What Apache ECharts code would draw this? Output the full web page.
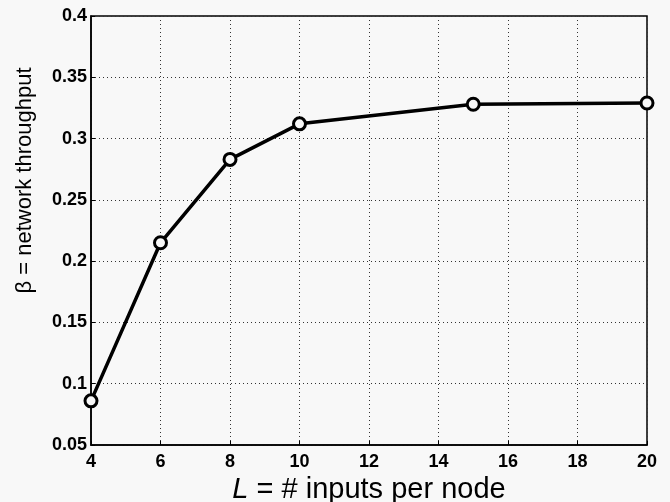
<!DOCTYPE html>
<html>
<head>
<meta charset="utf-8">
<script src="https://cdn.jsdelivr.net/npm/echarts@6/dist/echarts.min.js"></script>
<style>
html,body{margin:0;padding:0;background:#f8f8f8;}
#c{width:670px;height:502px;}
</style>
</head>
<body>
<div id="c"></div>
<script>
const xValues = [4, 6, 8, 10, 15, 20];
const throughput = [0.086, 0.215, 0.283, 0.312, 0.328, 0.329];
const xTitle = "L = # inputs per node";
const yTitle = "\u03B2 = network throughput";

const chart = echarts.init(document.getElementById('c'));
const fontFam = '"Liberation Sans", Arial, sans-serif';
chart.setOption({
  backgroundColor: '#f8f8f8',
  animation: false,
  grid: { left: 91, right: 23, top: 16, bottom: 57, outerBoundsMode: 'none', containLabel: false, show: true, borderColor: '#000', borderWidth: 1.5, backgroundColor: 'transparent' },
  xAxis: {
    type: 'value', min: 4, max: 20, interval: 2,
    name: '{i|L} = # inputs per node',
    nameLocation: 'middle', nameGap: 27,
    nameTextStyle: {
      fontFamily: fontFam, fontSize: 29, color: '#000',
      rich: { i: { fontFamily: fontFam, fontSize: 29, fontStyle: 'italic', color: '#000' } }
    },
    axisLine: { show: true, lineStyle: { color: '#000', width: 1.5 } },
    axisTick: { show: true, inside: true, length: 4, lineStyle: { color: '#000' } },
    axisLabel: { color: '#000', fontFamily: fontFam, fontWeight: 'bold', fontSize: 18, margin: 8 },
    splitLine: { show: true, lineStyle: { color: '#333', type: [1, 3], width: 1 } }
  },
  yAxis: {
    type: 'value', min: 0.05, max: 0.4, interval: 0.05,
    name: yTitle,
    nameLocation: 'middle', nameGap: 55,
    nameTextStyle: { fontFamily: fontFam, fontSize: 22, color: '#000', padding: [0, 0, 0, 100] },
    axisLine: { show: true, lineStyle: { color: '#000', width: 1.5 } },
    axisTick: { show: true, inside: true, length: 4, lineStyle: { color: '#000' } },
    axisLabel: {
      color: '#000', fontFamily: fontFam, fontWeight: 'bold', fontSize: 18, margin: 4,
      formatter: v => String(+v.toFixed(2))
    },
    splitLine: { show: true, lineStyle: { color: '#333', type: [1, 3], width: 1 } }
  },
  series: [{
    type: 'line',
    data: xValues.map((x, i) => [x, throughput[i]]),
    symbol: 'circle', symbolSize: 12,
    itemStyle: { color: '#f8f8f8', borderColor: '#000', borderWidth: 3 },
    lineStyle: { color: '#000', width: 3.5 },
    z: 3
  }]
});
</script>
</body>
</html>
